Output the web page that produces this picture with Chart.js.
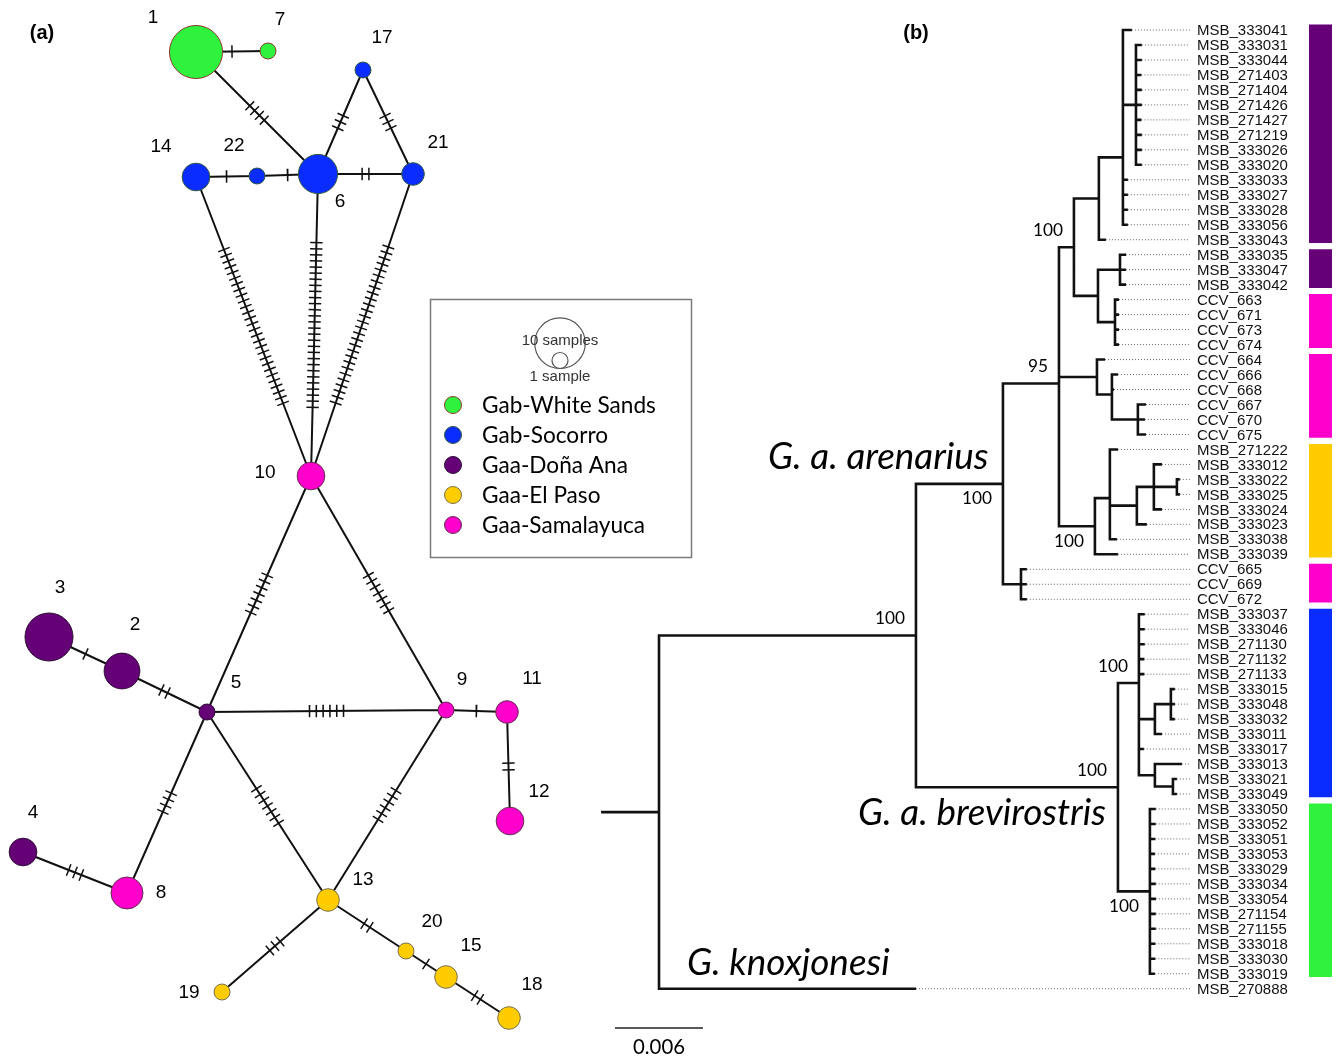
<!DOCTYPE html>
<html><head><meta charset="utf-8">
<script src="https://cdn.jsdelivr.net/npm/chart.js@4/dist/chart.umd.min.js"></script>
<style>html,body{margin:0;padding:0;background:#fff;}#wrap{width:1336px;height:1059px;}</style>
</head><body><div id="wrap"><canvas id="c" width="1336" height="1059"></canvas></div>
<script>
// ================= DATA =================
// (a) haplotype network
const hapIds   = [1,  2,  3,  4,  5,  6,  7,  8,  9,  10, 11, 12, 13, 14, 15, 17, 18,  19, 20, 21, 22];
const hapX     = [196,122,49, 23, 207,318,268,127,446,311,507,510,328,196,446,363,509, 222,406,413,257];
const hapY     = [52, 671,637,852,712,174,51, 893,710,476,712,821,900,177,977,70, 1018,992,951,174,176];
const hapCount = [11, 5,  9,  3,  1,  6,  1,  4,  1,  3,  2,  3,  2,  3,  2,  1,  2,   1,  1,  2,  1];
const hapPop   = [0,  2,  2,  2,  2,  1,  0,  4,  4,  4,  4,  4,  3,  1,  3,  1,  3,   3,  3,  1,  1];
const popNames = ['Gab-White Sands','Gab-Socorro','Gaa-Doña Ana','Gaa-El Paso','Gaa-Samalayuca'];
const edgeFrom  = [1,1,14,22,6, 6, 17,14,6, 21,10,10,5,9, 11,3,2,5,4,5,9, 13,13,20,15];
const edgeTo    = [7,6,22,6, 21,17,21,10,10,10,5, 9, 9,11,12,2,5,8,8,13,13,19,20,15,18];
const edgeSteps = [1,4,1, 1, 2, 3, 3, 28,28,28,7, 7, 6,1, 2, 1,2,4,3,7, 6, 3, 2, 1, 2];
const sizeLegendCounts = [10, 1];

// (b) phylogeny (branch lengths in substitutions/site, bootstrap as node labels)
const treeNewick = `(
 ((((((MSB_333041:0.00061,
       (MSB_333031:0.00040,MSB_333044:0.00040,MSB_271403:0.00037,MSB_271404:0.00040,MSB_271426:0.00040,
        MSB_271427:0.00037,MSB_271219:0.00040,MSB_333026:0.00040,MSB_333020:0.00040):0.00089,
       MSB_333033:0.00034,MSB_333027:0.00034,MSB_333028:0.00034,MSB_333056:0.00034):0.00164,
      MSB_333043:0.00048):0.00170,
     ((MSB_333035:0.00041,MSB_333047:0.00041,MSB_333042:0.00041):0.00150,
      (CCV_663:0.00027,CCV_671:0.00027,CCV_673:0.00027,CCV_674:0.00027):0.00116):0.00164
    )100:0.00102,
    (CCV_664:0.00055,
     (CCV_666:0.00041,CCV_668:0.00014,(CCV_667:0.00055,CCV_670:0.00048,CCV_675:0.00055):0.00177):0.00102
    ):0.00259,
    ((MSB_271222:0.00055,
      ((MSB_333012:0.00055,(MSB_333022:0.00020,MSB_333025:0.00020):0.00157,MSB_333024:0.00055):0.00116,
       MSB_333023:0.00068):0.00184,
      MSB_333038:0.00048):0.00102,
     MSB_333039:0.00157)100:0.00245
   )95:0.00382,
   (CCV_665:0.00040,CCV_669:0.00040,CCV_672:0.00040):0.00123
  )100:0.00593,
  ((MSB_333037:0.00040,MSB_333046:0.00040,MSB_271130:0.00040,MSB_271132:0.00037,MSB_271133:0.00037,
    ((MSB_333015:0.00027,MSB_333048:0.00027,MSB_333032:0.00027):0.00109,MSB_333011:0.00048):0.00109,
    MSB_333017:0.00034,
    (MSB_333013:0.00184,(MSB_333021:0.00027,MSB_333049:0.00027):0.00123):0.00109
   )100:0.00143,
   (MSB_333050:0.00040,MSB_333052:0.00040,MSB_333051:0.00037,MSB_333053:0.00034,MSB_333029:0.00037,
    MSB_333034:0.00040,MSB_333054:0.00041,MSB_271154:0.00040,MSB_271155:0.00040,MSB_333018:0.00037,
    MSB_333030:0.00037,MSB_333019:0.00034)100:0.00218
  )100:0.01377
 )100:0.01752,
 MSB_270888:0.01752
):0.00395;`;
const groupFirst = ['MSB_333041','MSB_333035','CCV_663','CCV_664','MSB_271222','CCV_665','MSB_333037','MSB_333050'];
const groupLast  = ['MSB_333043','MSB_333042','CCV_674','CCV_675','MSB_333039','CCV_672','MSB_333049','MSB_333019'];
const groupPop   = [2,2,4,4,3,4,1,0];
const cladeNames = ['G. a. arenarius','G. a. brevirostris','G. knoxjonesi'];
const scaleBarValue = 0.006;
const scaleBarLabel = '0.006';

// ================= STYLE =================
const POP_COLORS  = ['#2ef23e','#0a2cff','#660077','#ffcc00','#ff00cc'];
const POP_BORDERS = ['#8a3b2b','#2f5a3f','#2a1030','#777050','#603050'];
const NODE_R1 = 8;            // radius of a 1-sample node
const HATCH_HALF = 6.2;
const labelOffset = {1:[-43,-34],2:[13,-46],3:[11,-49],4:[10,-39],5:[29,-29],6:[22,28],7:[12,-31],8:[34,0],
  9:[16,-30],10:[-46,-3],11:[25,-33],12:[29,-29],13:[35,-20],14:[-35,-30],15:[25,-31],17:[19,-32],18:[23,-33],
  19:[-33,1],20:[26,-29],21:[25,-31],22:[-23,-30]};
const supportPlace = ['above','below','above','below','above','below','above','above'];
const cladeStyle = [{x:768,y:469},{x:858,y:825},{x:687,y:975}];
const DOT_END = 0.03620;      // tree units where dotted leaders end
const BAR_X = 1320.5, BAR_W = 23;
const SCALE_Y = 66.62;
const ARIAL = '"Liberation Sans", Arial, sans-serif';
const CAL = 'Lato, "Open Sans", sans-serif';

// ================= BUILD =================
function parseNewick(str){
  const s = str.replace(/\s+/g,''); let i = 0;
  function rd(){
    const n = {children:[], name:'', len:0};
    if (s[i] === '('){ i++; n.children.push(rd()); while (s[i] === ','){ i++; n.children.push(rd()); } i++; }
    let name=''; while (i < s.length && !',():;'.includes(s[i])) name += s[i++];
    n.name = name;
    if (s[i] === ':'){ i++; let num=''; while (i < s.length && !',();'.includes(s[i])) num += s[i++]; n.len = parseFloat(num); }
    return n;
  }
  return rd();
}
const tree = parseNewick(treeNewick);
const tips = [], internals = [];
(function layout(n, x){
  n.x = x;
  if (!n.children.length){ n.y = tips.length; tips.push(n); return; }
  n.children.forEach(c => layout(c, x + c.len));
  n.y = n.children.reduce((a,c)=>a+c.y,0)/n.children.length;
  internals.push(n);
})(tree, 0);
const tipIndex = {}; tips.forEach((t,k)=>tipIndex[t.name]=k);
const G = {x:null, y:null};

const treeLines = [{x:-tree.len, y:tree.y},{x:0, y:tree.y}, G];
internals.forEach(n => {
  const cs = n.children, a = cs[0], b = cs[cs.length-1];
  treeLines.push({x:a.x,y:a.y},{x:n.x,y:a.y},{x:n.x,y:b.y},{x:b.x,y:b.y},G);
  for (let k=1;k<cs.length-1;k++) treeLines.push({x:n.x,y:cs[k].y},{x:cs[k].x,y:cs[k].y},G);
});
const dotLines = [];
tips.forEach(t => dotLines.push({x:t.x,y:t.y},{x:DOT_END,y:t.y},G));

const idx = {}; hapIds.forEach((h,k)=>idx[h]=k);
const netEdges = [], hatches = [];
edgeFrom.forEach((f,e) => {
  const a = idx[f], b = idx[edgeTo[e]];
  const ax=hapX[a], ay=hapY[a], bx=hapX[b], by=hapY[b];
  netEdges.push({x:ax,y:ay},{x:bx,y:by},G);
  const L = Math.hypot(bx-ax, by-ay), dx=(bx-ax)/L, dy=(by-ay)/L, nx=-dy, ny=dx;
  const n = edgeSteps[e], sp = n > 12 ? 6.1 : 6.8;
  const cx = (ax+bx)/2, cy = (ay+by)/2;
  for (let k=0;k<n;k++){
    const o = (k-(n-1)/2)*sp, px = cx+dx*o, py = cy+dy*o;
    hatches.push({x:px-nx*HATCH_HALF,y:py-ny*HATCH_HALF},{x:px+nx*HATCH_HALF,y:py+ny*HATCH_HALF},G);
  }
});
const nodes = hapIds.map((h,k)=>({x:hapX[k], y:hapY[k], r:NODE_R1*Math.sqrt(hapCount[k])}));

const datasets = [
  {type:'bubble', label:'haplotypes', data:nodes, xAxisID:'xp', yAxisID:'yp', order:0,
   backgroundColor:hapPop.map(p=>POP_COLORS[p]), borderColor:hapPop.map(p=>POP_BORDERS[p]), borderWidth:1, clip:false},
  {type:'line', label:'hatches', data:hatches, xAxisID:'xp', yAxisID:'yp', order:1, borderColor:'#111', borderWidth:1.5,
   pointRadius:0, spanGaps:false, fill:false, clip:false},
  {type:'line', label:'edges', data:netEdges, xAxisID:'xp', yAxisID:'yp', order:2, borderColor:'#111', borderWidth:2,
   pointRadius:0, spanGaps:false, fill:false, clip:false},
  {type:'line', label:'tree', data:treeLines, xAxisID:'xt', yAxisID:'yt', order:3, borderColor:'#111', borderWidth:2.6,
   borderJoinStyle:'miter', borderCapStyle:'butt', pointRadius:0, spanGaps:false, fill:false, clip:false},
  {type:'line', label:'leaders', data:dotLines, xAxisID:'xt', yAxisID:'yt', order:4, borderColor:'#666', borderWidth:1,
   borderDash:[1,2], pointRadius:0, spanGaps:false, fill:false, clip:false},
  {type:'line', label:'scalebar', data:[{x:-scaleBarValue/2,y:SCALE_Y},{x:scaleBarValue/2,y:SCALE_Y}], xAxisID:'xt', yAxisID:'yt',
   order:5, borderColor:'#222', borderWidth:1.5, pointRadius:0, fill:false, clip:false}
];
groupFirst.forEach((g,k) => {
  datasets.push({type:'line', label:'bar'+k, xAxisID:'xp', yAxisID:'yt', order:6,
    data:[{x:BAR_X, y:tipIndex[g]-0.37},{x:BAR_X, y:tipIndex[groupLast[k]]+0.22}],
    borderColor:POP_COLORS[groupPop[k]], borderWidth:BAR_W, borderCapStyle:'butt', pointRadius:0, fill:false, clip:false});
});

function fitSize(ctx, text, font, style, target){
  ctx.font = `${style} 100px ${font}`;
  return 100*target/ctx.measureText(text).width;
}
const textPlugin = {
  id:'texts',
  afterDatasetsDraw(chart){
    const ctx = chart.ctx, sx = chart.scales.xp, sy = chart.scales.yp, tx = chart.scales.xt, ty = chart.scales.yt;
    ctx.save();
    ctx.fillStyle = '#000';
    // panel labels
    ctx.font = `bold 20px ${ARIAL}`; ctx.textAlign='center'; ctx.textBaseline='middle';
    ctx.fillText('(a)', 42, 33); ctx.fillText('(b)', 916, 33);
    // node labels
    ctx.font = `19px ${ARIAL}`;
    hapIds.forEach((h,k) => {
      const o = labelOffset[h];
      ctx.fillText(String(h), sx.getPixelForValue(hapX[k])+o[0], sy.getPixelForValue(hapY[k])+o[1]);
    });
    // legend frame
    ctx.strokeStyle = '#7a7a7a'; ctx.lineWidth = 1.5; ctx.strokeRect(430.5, 299.5, 261, 258);
    // size legend
    const rb = NODE_R1*Math.sqrt(sizeLegendCounts[0]), rs = NODE_R1*Math.sqrt(sizeLegendCounts[1]);
    const bottom = 368.5;
    ctx.strokeStyle = '#555'; ctx.lineWidth = 1.2;
    ctx.beginPath(); ctx.arc(560, bottom-rb, rb, 0, 2*Math.PI); ctx.stroke();
    ctx.beginPath(); ctx.arc(560, bottom-rs, rs, 0, 2*Math.PI); ctx.stroke();
    ctx.fillStyle = '#333'; ctx.font = `15px ${ARIAL}`;
    ctx.fillText(sizeLegendCounts[0]+' samples', 560, 341);
    ctx.fillText(sizeLegendCounts[1]+' sample', 560, 377);
    // population legend
    const ls = fitSize(ctx, popNames[0], CAL, '', 174);
    popNames.forEach((p,k) => {
      const y = 405 + 30*k;
      ctx.beginPath(); ctx.arc(453, y, 8.5, 0, 2*Math.PI);
      ctx.fillStyle = POP_COLORS[k]; ctx.fill(); ctx.strokeStyle = POP_BORDERS[k]; ctx.lineWidth = 1; ctx.stroke();
      ctx.fillStyle = '#000'; ctx.font = `${ls}px ${CAL}`; ctx.textAlign='left'; ctx.textBaseline='middle';
      ctx.fillText(p, 482, y+1);
    });
    // tip labels
    ctx.font = `15px ${ARIAL}`; ctx.fillStyle = '#111'; ctx.textAlign='left'; ctx.textBaseline='middle';
    const lx = tx.getPixelForValue(DOT_END) + 7;
    tips.forEach(t => ctx.fillText(t.name, lx, ty.getPixelForValue(t.y)+1));
    // support values
    const ss = fitSize(ctx, '100', CAL, '', 30);
    ctx.font = `${ss}px ${CAL}`; ctx.textAlign='right'; ctx.fillStyle='#000';
    internals.filter(n => n.name !== '').forEach((n,k) => {
      const dy = supportPlace[k] === 'below' ? 15 : -17;
      ctx.fillText(n.name, tx.getPixelForValue(n.x)-11, ty.getPixelForValue(n.y)+dy);
    });
    // clade labels
    const cs = fitSize(ctx, cladeNames[1], CAL, 'italic', 248);
    ctx.font = `italic ${cs}px ${CAL}`; ctx.textAlign='left'; ctx.textBaseline='alphabetic';
    cladeNames.forEach((c,k) => ctx.fillText(c, cladeStyle[k].x, cladeStyle[k].y));
    // scale label
    const sc = fitSize(ctx, scaleBarLabel, CAL, '', 52);
    ctx.font = `${sc}px ${CAL}`; ctx.textAlign='center'; ctx.textBaseline='middle';
    ctx.fillText(scaleBarLabel, tx.getPixelForValue(0), ty.getPixelForValue(SCALE_Y)+19);
    ctx.restore();
  }
};

new Chart(document.getElementById('c'), {
  type:'scatter',
  data:{datasets},
  options:{
    responsive:false, animation:false, devicePixelRatio:1,
    layout:{padding:0, autoPadding:false},
    plugins:{legend:{display:false}, tooltip:{enabled:false}},
    events:[],
    scales:{
      x:{type:'linear', display:false},
      y:{type:'linear', display:false},
      xp:{type:'linear', axis:'x', min:0, max:1336, display:false},
      yp:{type:'linear', axis:'y', min:0, max:1059, reverse:true, display:false},
      xt:{type:'linear', axis:'x', min:-0.044931, max:0.046158, display:false},
      yt:{type:'linear', axis:'y', min:-2.0027, max:68.691, reverse:true, display:false}
    }
  },
  plugins:[textPlugin]
});
</script>
</body></html>
